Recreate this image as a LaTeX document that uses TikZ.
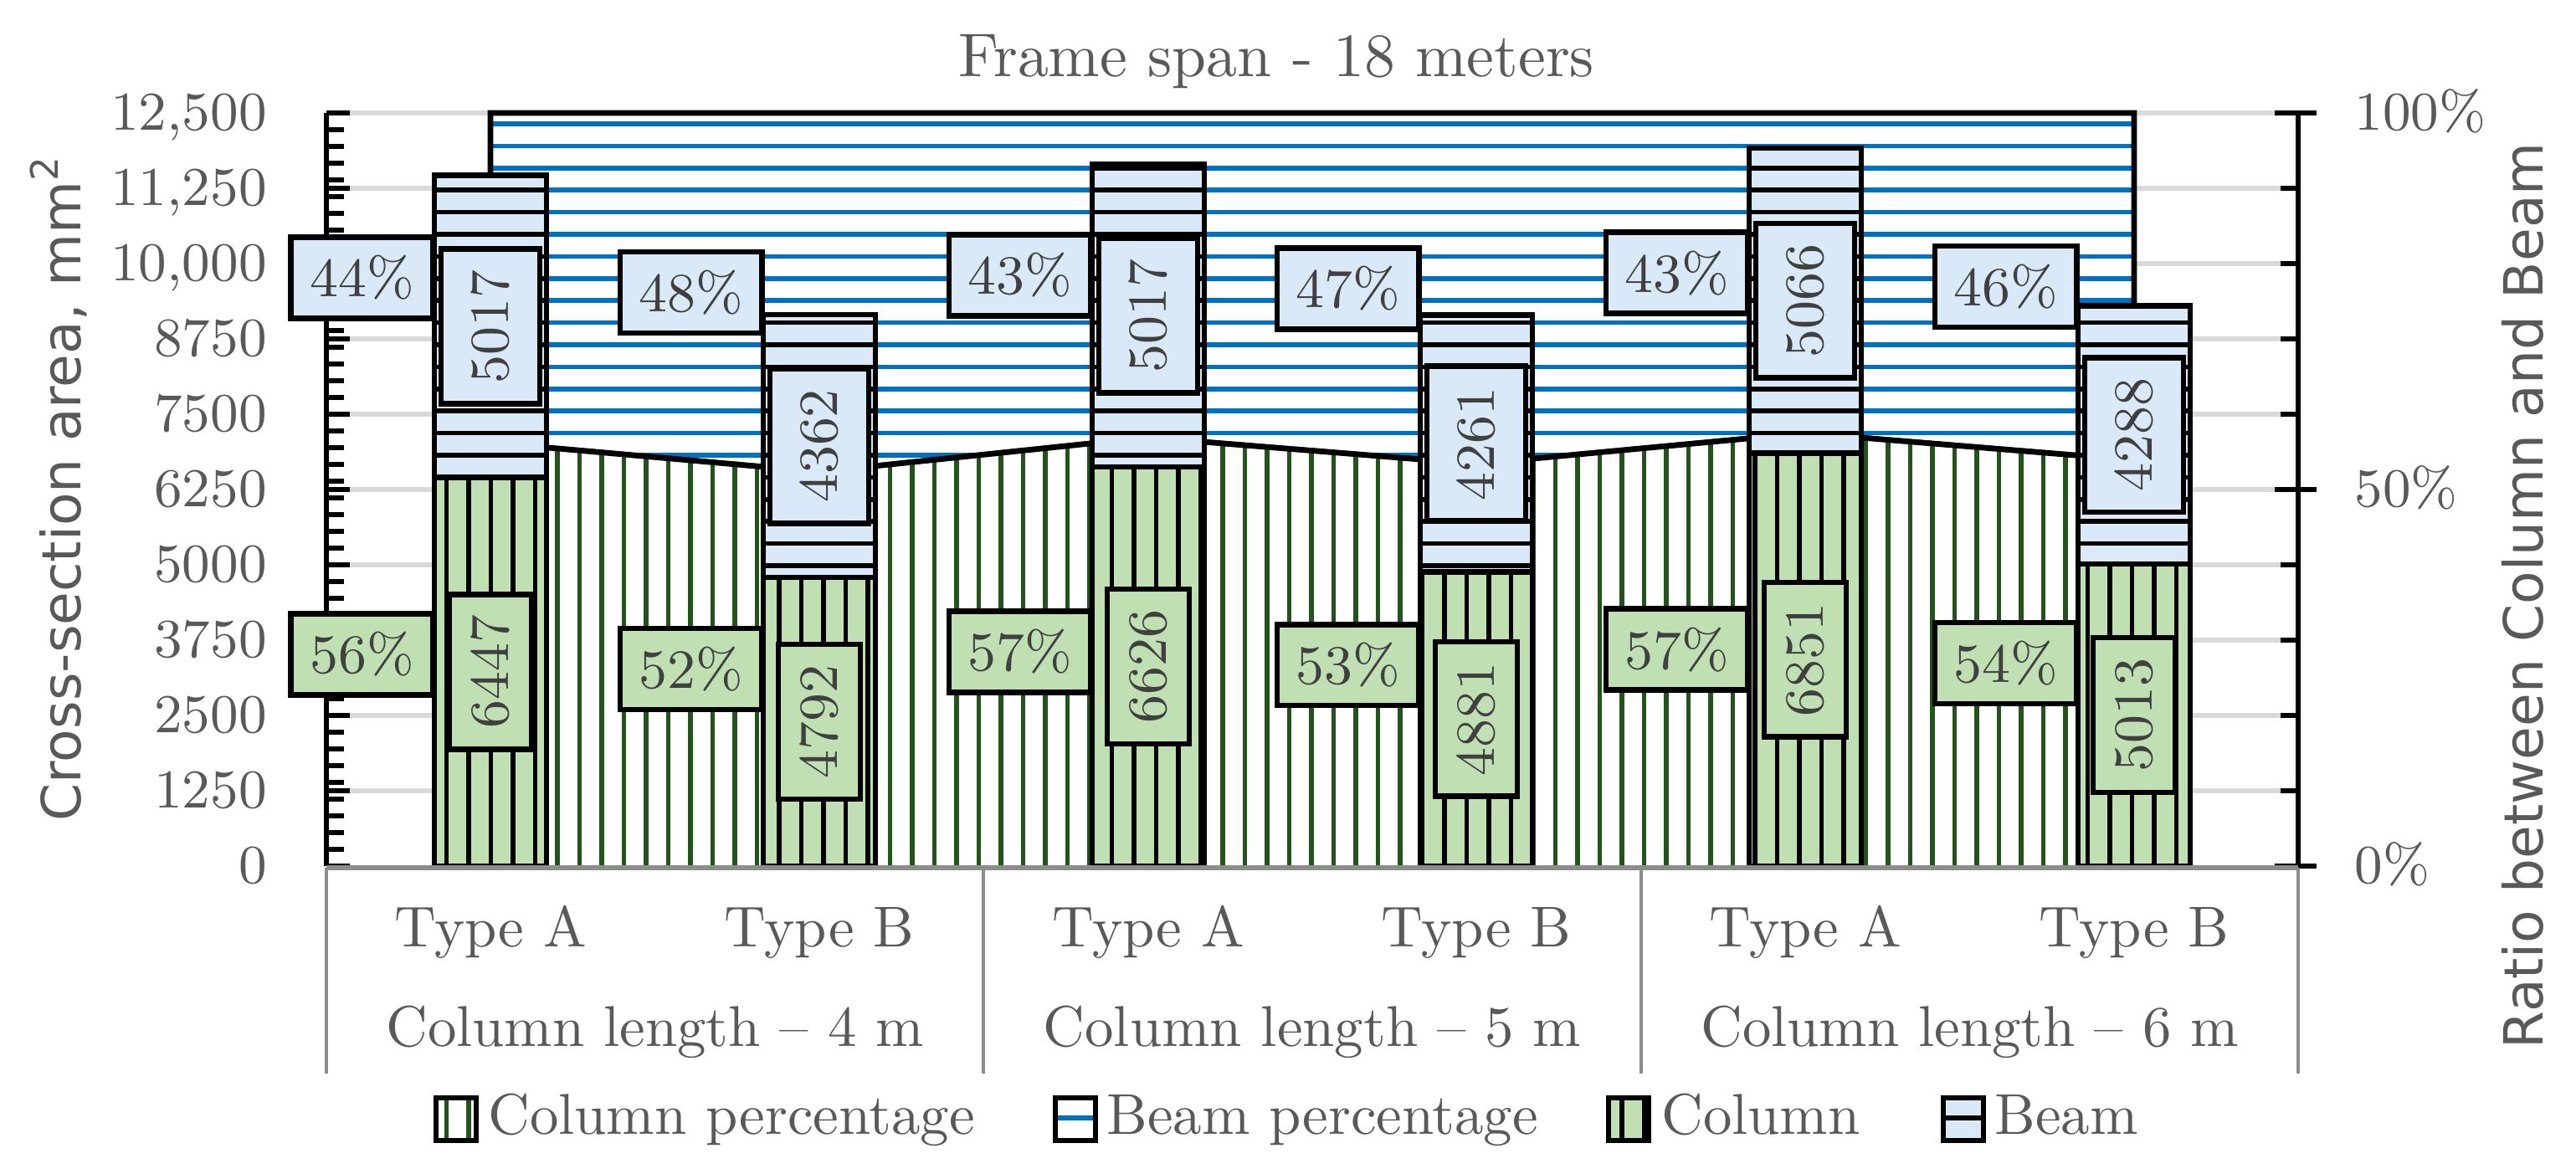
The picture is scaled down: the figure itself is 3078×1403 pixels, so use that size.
\documentclass[tikz,border=0pt]{standalone}
\usepackage{fontspec}
\usepackage{xcolor}
\newfontfamily\chartsans{DejaVu Sans}

\definecolor{colfill}{HTML}{C0E0B4}
\definecolor{beamfill}{HTML}{DAE9F7}
\definecolor{beamline}{HTML}{0070C0}
\definecolor{colline}{HTML}{22531A}
\definecolor{axistext}{HTML}{595959}
\definecolor{labeltext}{HTML}{404040}
\definecolor{gridgray}{HTML}{D9D9D9}
\definecolor{axisgray}{HTML}{8C8C8C}

\newcommand{\chartdatafont}{\fontsize{9.4}{11}\selectfont}
\newcommand{\charttickfont}{\fontsize{9.3}{11}\selectfont}
\newcommand{\chartcatfont}{\fontsize{9.8}{12}\selectfont}
\newcommand{\charttitlefont}{\fontsize{10.5}{12}\selectfont}
\newcommand{\chartaxisfont}{\chartsans\fontsize{9.2}{11}\selectfont}

\tikzset{
  gridline/.style={draw=gridgray, line width=0.75pt},
  hatchline/.style={line width=0.8pt},
  barline/.style={draw=black, line width=0.95pt},
  tickline/.style={draw=black, line width=0.85pt},
  pctcol/.style={draw=black, line width=0.95pt, fill=colfill, text=labeltext,
    font=\chartdatafont, minimum width=0.85cm, minimum height=0.485cm, inner sep=0pt},
  pctbeam/.style={pctcol, fill=beamfill},
  valcol/.style={draw=black, line width=0.95pt, fill=colfill, text=labeltext,
    font=\chartdatafont, rotate=90, minimum width=0.925cm, minimum height=0.49cm, inner sep=0pt},
  valbeam/.style={valcol, fill=beamfill, minimum height=0.59cm},
  ticklabel/.style={text=axistext, font=\charttickfont, inner sep=0pt},
  catlabel/.style={text=axistext, font=\chartcatfont, inner sep=0pt},
  axistitle/.style={text=axistext, font=\chartaxisfont, inner sep=0pt, rotate=90}
}

% box with vertical hatching: x1 y1 x2 y2 fill line
\newcommand{\vhatchbox}[6]{%
  \fill[#5] (#1,#2) rectangle (#3,#4);
  \begin{scope}
    \clip (#1,#2) rectangle (#3,#4);
    \foreach \k in {0,...,116}
      \draw[#6, hatchline] ({3.5+26.5*\k},0) -- ({3.5+26.5*\k},1403);
  \end{scope}
  \draw[barline] (#1,#2) rectangle (#3,#4);
}
% box with horizontal hatching
\newcommand{\hhatchbox}[6]{%
  \fill[#5] (#1,#2) rectangle (#3,#4);
  \begin{scope}
    \clip (#1,#2) rectangle (#3,#4);
    \foreach \k in {0,...,52}
      \draw[#6, hatchline] (0,{16.1+26.4*\k}) -- (3078,{16.1+26.4*\k});
  \end{scope}
  \draw[barline] (#1,#2) rectangle (#3,#4);
}

\begin{document}
\begin{tikzpicture}[x=0.005cm, y=-0.005cm]

\fill[white] (0,0) rectangle (3078,1403);
\useasboundingbox (0,0) rectangle (3078,1403);

% gridlines
\foreach \k in {1,...,10}
  \draw[gridline] (390,{1035-90*\k}) -- (2746,{1035-90*\k});

% ratio points
\coordinate (t1) at (586,135);
\coordinate (t6) at (2550,135);
\coordinate (z1) at (586,1035);
\coordinate (z6) at (2550,1035);
\coordinate (r1) at (586,528.9);
\coordinate (r2) at (979,563.9);
\coordinate (r3) at (1372,522.8);
\coordinate (r4) at (1764,554.5);
\coordinate (r5) at (2157,517.6);
\coordinate (r6) at (2550,549.9);

% beam percentage area
\fill[white] (t1) -- (t6) -- (r6) -- (r5) -- (r4) -- (r3) -- (r2) -- (r1) -- cycle;
\begin{scope}
\clip (t1) -- (t6) -- (r6) -- (r5) -- (r4) -- (r3) -- (r2) -- (r1) -- cycle;
\foreach \k in {0,...,52}
  \draw[beamline, hatchline] (0,{16.1+26.4*\k}) -- (3078,{16.1+26.4*\k});
\end{scope}
\draw[barline] (t1) -- (t6) -- (r6) -- (r5) -- (r4) -- (r3) -- (r2) -- (r1) -- cycle;

% column percentage area
\fill[white] (z1) -- (r1) -- (r2) -- (r3) -- (r4) -- (r5) -- (r6) -- (z6) -- cycle;
\begin{scope}
\clip (z1) -- (r1) -- (r2) -- (r3) -- (r4) -- (r5) -- (r6) -- (z6) -- cycle;
\foreach \k in {0,...,116}
  \draw[colline, hatchline] ({3.5+26.5*\k},0) -- ({3.5+26.5*\k},1403);
\end{scope}
\draw[barline] (z1) -- (r1) -- (r2) -- (r3) -- (r4) -- (r5) -- (r6) -- (z6);

% axes and ticks
\draw[tickline, line width=0.95pt] (390,135) -- (390,1035);
\draw[tickline, line width=0.95pt] (2746,135) -- (2746,1035);
\foreach \k in {0,...,45}
  \draw[tickline] (390,{1035-20*\k}) -- (411,{1035-20*\k});
\foreach \k in {0,...,10}
  \draw[tickline] (390,{1035-90*\k}) -- (418,{1035-90*\k});
\foreach \k in {0,...,10}
  \draw[tickline] (2725,{1035-90*\k}) -- (2746,{1035-90*\k});
\foreach \k in {0,5,10}
  \draw[tickline] (2718,{1035-90*\k}) -- (2768,{1035-90*\k});

% bars
\vhatchbox{519}{1035}{653}{570.8}{colfill}{black}
\hhatchbox{519}{570.8}{653}{209.6}{beamfill}{black}
\vhatchbox{912}{1035}{1046}{690.0}{colfill}{black}
\hhatchbox{912}{690.0}{1046}{375.9}{beamfill}{black}
\vhatchbox{1305}{1035}{1439}{557.9}{colfill}{black}
\hhatchbox{1305}{557.9}{1439}{196.7}{beamfill}{black}
\vhatchbox{1697}{1035}{1831}{683.6}{colfill}{black}
\hhatchbox{1697}{683.6}{1831}{376.8}{beamfill}{black}
\vhatchbox{2090}{1035}{2224}{541.7}{colfill}{black}
\hhatchbox{2090}{541.7}{2224}{177.0}{beamfill}{black}
\vhatchbox{2483}{1035}{2617}{674.1}{colfill}{black}
\hhatchbox{2483}{674.1}{2617}{365.3}{beamfill}{black}

% category axis
\draw[axisgray, line width=0.75pt] (390,1037) -- (2746,1037);
\foreach \x in {390,1175,1961,2746}
  \draw[axisgray, line width=0.5pt] (\x,1037) -- (\x,1283);

% percentage labels
\node[pctbeam, anchor=east] (p1) at (521,332.0) {44\%};
\node[pctcol, anchor=east] (q1) at (521,781.9) {56\%};
\node[pctbeam, anchor=east] (p2) at (914,349.5) {48\%};
\node[pctcol, anchor=east] (q2) at (914,799.4) {52\%};
\node[pctbeam, anchor=east] (p3) at (1307,328.9) {43\%};
\node[pctcol, anchor=east] (q3) at (1307,778.9) {57\%};
\node[pctbeam, anchor=east] (p4) at (1699,344.8) {47\%};
\node[pctcol, anchor=east] (q4) at (1699,794.7) {53\%};
\node[pctbeam, anchor=east] (p5) at (2092,326.3) {43\%};
\node[pctcol, anchor=east] (q5) at (2092,776.3) {57\%};
\node[pctbeam, anchor=east] (p6) at (2485,342.5) {46\%};
\node[pctcol, anchor=east] (q6) at (2485,792.4) {54\%};

% value labels
\node[valbeam] (b1) at (586,390.2) {5017};
\node[valcol] (c1) at (586,802.9) {6447};
\node[valbeam] (b2) at (979,533.0) {4362};
\node[valcol] (c2) at (979,862.5) {4792};
\node[valbeam] (b3) at (1372,377.3) {5017};
\node[valcol] (c3) at (1372,796.5) {6626};
\node[valbeam] (b4) at (1764,530.2) {4261};
\node[valcol] (c4) at (1764,859.3) {4881};
\node[valbeam] (b5) at (2157,359.4) {5066};
\node[valcol] (c5) at (2157,788.4) {6851};
\node[valbeam] (b6) at (2550,519.7) {4288};
\node[valcol] (c6) at (2550,854.5) {5013};

% left axis labels
\node[ticklabel, anchor=base east] (l0) at (320,1056) {0};
\node[ticklabel, anchor=base east] (l1) at (320,966) {1250};
\node[ticklabel, anchor=base east] (l2) at (320,876) {2500};
\node[ticklabel, anchor=base east] (l3) at (320,786) {3750};
\node[ticklabel, anchor=base east] (l4) at (320,696) {5000};
\node[ticklabel, anchor=base east] (l5) at (320,606) {6250};
\node[ticklabel, anchor=base east] (l6) at (320,516) {7500};
\node[ticklabel, anchor=base east] (l7) at (320,426) {8750};
\node[ticklabel, anchor=base east] (l8) at (320,336) {10,000};
\node[ticklabel, anchor=base east] (l9) at (320,246) {11,250};
\node[ticklabel, anchor=base east] (l10) at (320,156) {12,500};

% right axis labels
\node[ticklabel, anchor=base west] (m0) at (2812,1056) {0\%};
\node[ticklabel, anchor=base west] (m1) at (2812,606) {50\%};
\node[ticklabel, anchor=base west] (m2) at (2812,156) {100\%};

% category labels
\node[catlabel, anchor=base] (k1) at (586,1132) {Type A};
\node[catlabel, anchor=base] (k2) at (979,1132) {Type B};
\node[catlabel, anchor=base] (k3) at (1372,1132) {Type A};
\node[catlabel, anchor=base] (k4) at (1764,1132) {Type B};
\node[catlabel, anchor=base] (k5) at (2157,1132) {Type A};
\node[catlabel, anchor=base] (k6) at (2550,1132) {Type B};
\node[catlabel, anchor=base] (g1) at (782.5,1250) {Column length -- 4 m};
\node[catlabel, anchor=base] (g2) at (1568,1250) {Column length -- 5 m};
\node[catlabel, anchor=base] (g3) at (2353.5,1250) {Column length -- 6 m};

% titles
\node[text=axistext, font=\charttitlefont, anchor=base, inner sep=0pt] (title) at (1525,92) {Frame span - 18 meters};
\node[axistitle, anchor=base] (ytitle) at (96,583) {Cross-section area, mm\textsuperscript{2}};
\node[axistitle, anchor=base] (rtitle) at (3038,712) {Ratio between Column and Beam};

% legend
\vhatchbox{521}{1312}{569}{1363}{white}{colline}
\node[catlabel, anchor=base west] (e1) at (582,1355) {Column percentage};
\hhatchbox{1261}{1312}{1309}{1363}{white}{beamline}
\node[catlabel, anchor=base west] (e2) at (1321,1355) {Beam percentage};
\vhatchbox{1922}{1312}{1970}{1363}{colfill}{black}
\node[catlabel, anchor=base west] (e3) at (1984,1355) {Column};
\hhatchbox{2322}{1312}{2370}{1363}{beamfill}{black}
\node[catlabel, anchor=base west] (e4) at (2382,1355) {Beam};

\end{tikzpicture}
\end{document}
